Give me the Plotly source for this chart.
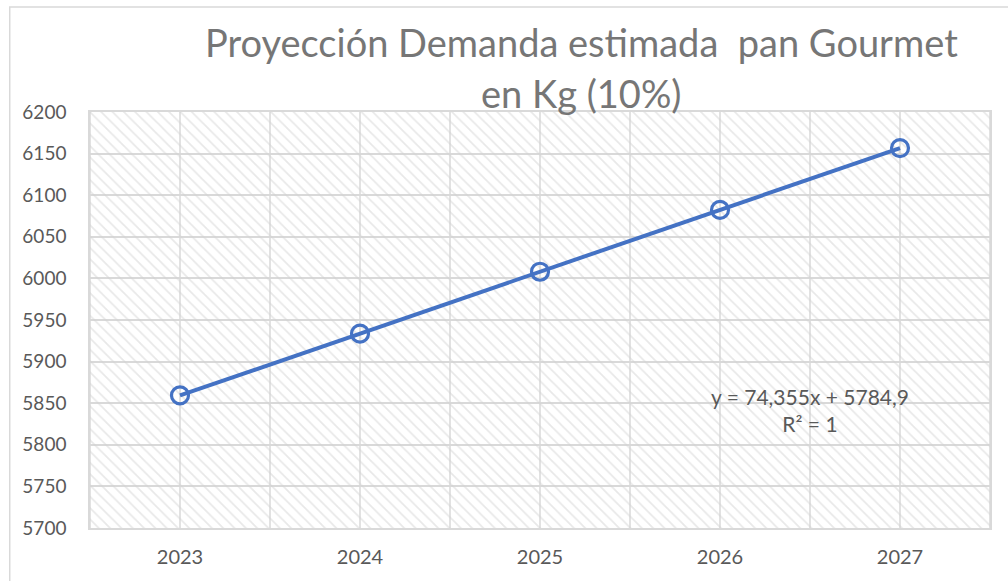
import plotly.graph_objects as go

years = ["2023", "2024", "2025", "2026", "2027"]
demand = [5859.3, 5933.6, 6008.0, 6082.3, 6156.7]
y_ticks = [5700, 5750, 5800, 5850, 5900, 5950, 6000, 6050, 6100, 6150, 6200]
y_min, y_max = 5700, 6200
title_lines = ["Proyección Demanda estimada  pan Gourmet", "en Kg (10%)"]
trend_text = "y = 74,355x + 5784,9<br>R² = 1"

font_family = "Lato, 'Open Sans', sans-serif"
gray = "#595959"
title_gray = "#767676"

fig = go.Figure()

# hatched plot-area background
fig.add_trace(go.Bar(
    x=years, y=[y_max - y_min] * len(years), base=[y_min] * len(years),
    width=1, hoverinfo="skip", showlegend=False,
    marker=dict(color="rgba(0,0,0,0)", line=dict(width=0),
                pattern=dict(shape="\\", fgcolor="#d2d2d2", bgcolor="rgba(0,0,0,0)",
                             size=8, solidity=0.22, fillmode="overlay")),
))

fig.add_trace(go.Scatter(
    x=years, y=demand, mode="lines+markers", showlegend=False,
    line=dict(color="#4472C4", width=4),
    marker=dict(symbol="circle-open", size=17, color="#4472C4", line=dict(width=3.2, color="#4472C4")),
))

fig.add_annotation(x=3.5, y=5842, xref="x", yref="y", text=trend_text, showarrow=False,
                   font=dict(family=font_family, size=21, color=gray), align="center")

# title as two centred lines
for txt, ypx in zip(title_lines, [42, 93]):
    fig.add_annotation(x=(580 - 90) / 897, y=1 + (112 - ypx) / 416, xref="paper", yref="paper",
                       text=txt, showarrow=False, xanchor="center", yanchor="middle",
                       font=dict(family=font_family, size=38, color=title_gray))

# outer chart border (right and bottom edges fall outside the picture)
fig.add_shape(type="rect", xref="paper", yref="paper",
              x0=-80 / 897, x1=1.0 + 40 / 897, y0=-80 / 416, y1=1 + 105 / 416,
              line=dict(color="#d9d9d9", width=1.5), fillcolor="rgba(0,0,0,0)", layer="below")

fig.update_layout(
    width=1008, height=581,
    margin=dict(l=90, r=18, t=112, b=53),
    paper_bgcolor="white", plot_bgcolor="white",
    bargap=0,
    xaxis=dict(type="category", range=[-0.5, 4.5], showgrid=False,
               tickfont=dict(family=font_family, size=20, color=gray), ticklabelstandoff=10,
               ticks="", showline=True, linecolor="#d9d9d9", linewidth=1.5, mirror=True),
    yaxis=dict(range=[y_min, y_max], tickvals=y_ticks, showgrid=True, gridcolor="#d9d9d9",
               gridwidth=1.5, tickfont=dict(family=font_family, size=19, color=gray),
               ticklabelstandoff=18,
               ticks="", showline=True, linecolor="#d9d9d9", linewidth=1.5, mirror=True,
               zeroline=False),
)

# vertical gridlines every half category
for i in range(0, 11):
    fig.add_vline(x=-0.5 + i * 0.5, line=dict(color="#d9d9d9", width=1.5), layer="below")

fig.write_html("out.html", config={"displayModeBar": False},
               post_script="document.body.style.margin='0';")
